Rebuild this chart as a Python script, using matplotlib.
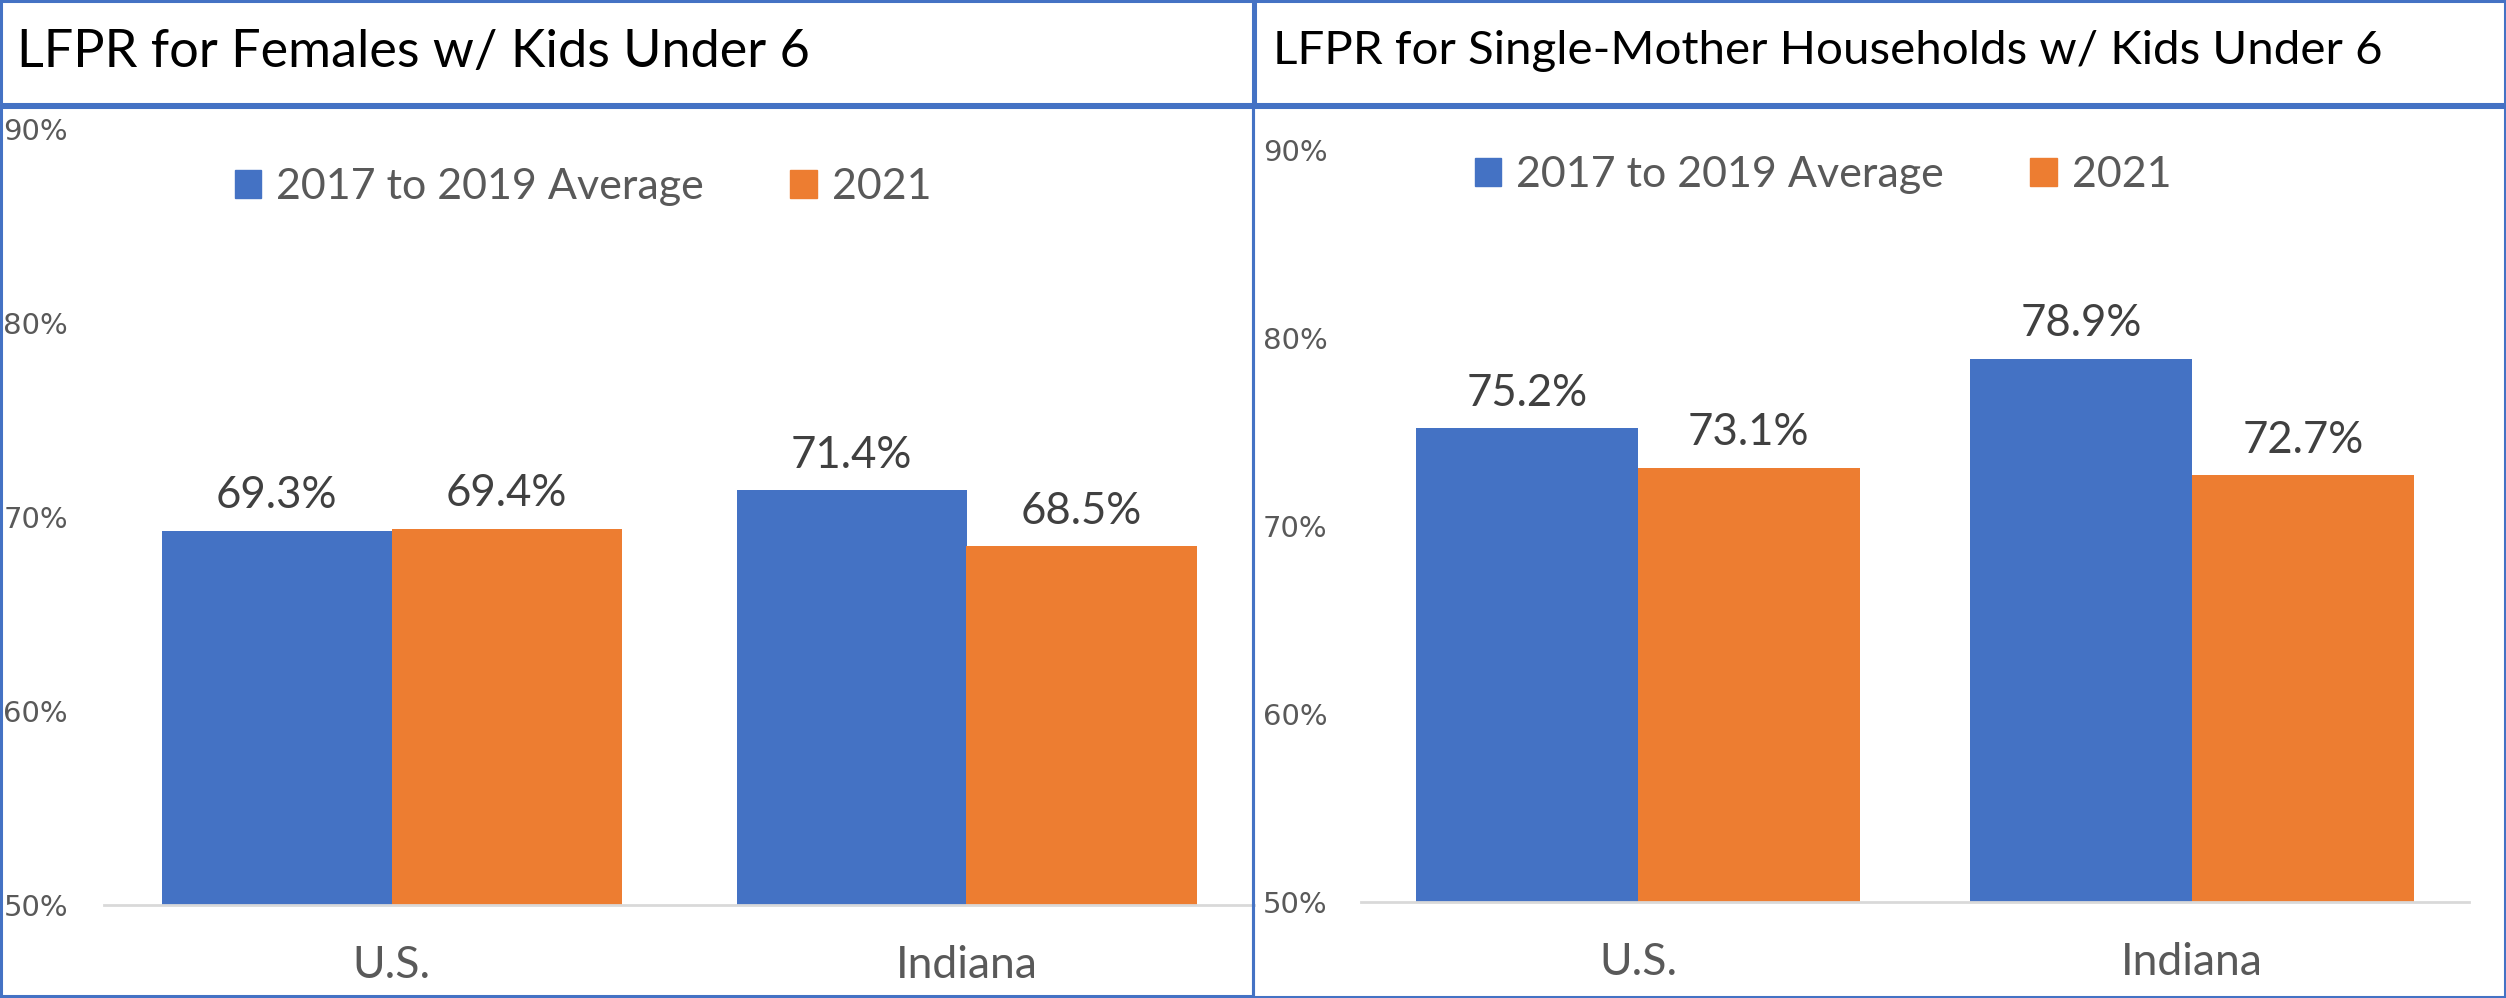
import numpy as np
import matplotlib.pyplot as plt
from matplotlib.patches import Rectangle, Patch
from matplotlib.ticker import PercentFormatter

# data
categories = ['U.S.', 'Indiana']
series_names = ['2017 to 2019 Average', '2021']
females_avg = [69.3, 71.4]
females_2021 = [69.4, 68.5]
single_avg = [75.2, 78.9]
single_2021 = [73.1, 72.7]
y_ticks = [50, 60, 70, 80, 90]

BLUE = '#4472C4'
ORANGE = '#ED7D31'
BORDER = '#4472C4'
GREY = '#595959'
FONT = 'Lato'

W, H = 2506, 998


def px_rect(x0, y0, x1, y1):
    # pixel box (top-left origin) -> figure fraction [left, bottom, width, height]
    return [x0 / W, 1 - y1 / H, (x1 - x0) / W, (y1 - y0) / H]


def draw_box(fig, x0, y0, x1, y1, color=BORDER):
    l, b, w, h = px_rect(x0, y0, x1, y1)
    fig.add_artist(Rectangle((l, b), w, h, transform=fig.transFigure,
                             fill=False, edgecolor=color, linewidth=2.2))


def draw_panel(fig, rect, title, title_pos, title_size, avg, y21, legend_pos, tick_pad):
    ax = fig.add_axes(px_rect(*rect))
    x = np.arange(len(categories))
    w = 0.4
    bars_a = ax.bar(x - w / 2, avg, width=w, color=BLUE, label=series_names[0])
    bars_b = ax.bar(x + w / 2, y21, width=w, color=ORANGE, label=series_names[1])

    for bars in (bars_a, bars_b):
        for b in bars:
            v = b.get_height()
            ax.annotate(f'{v:.1f}%', (b.get_x() + b.get_width() / 2, v),
                        xytext=(0, 16), textcoords='offset points',
                        ha='center', va='baseline', fontsize=31.5,
                        color='#404040', family=FONT)

    ax.set_ylim(50, 90)
    ax.set_xlim(-0.5, len(categories) - 0.5)
    ax.set_yticks(y_ticks)
    ax.yaxis.set_major_formatter(PercentFormatter(decimals=0))
    ax.set_xticks(x)
    ax.set_xticklabels(categories, family=FONT, fontsize=32, color=GREY)
    for lab in ax.get_yticklabels():
        lab.set_family('DejaVu Sans')
        lab.set_fontsize(21)
        lab.set_color(GREY)
    ax.tick_params(axis='y', length=0, pad=tick_pad)
    ax.tick_params(axis='x', length=0, pad=29)
    for s in ['top', 'right', 'left']:
        ax.spines[s].set_visible(False)
    ax.spines['bottom'].set_color('#D9D9D9')
    ax.spines['bottom'].set_linewidth(2)

    fig.text(title_pos[0] / W, 1 - title_pos[1] / H, title, fontsize=title_size,
             family=FONT, color='black', ha='left', va='center')

    handles = [Patch(color=BLUE), Patch(color=ORANGE)]
    fig.legend(handles, series_names, loc='center',
               bbox_to_anchor=(legend_pos[0] / W, 1 - legend_pos[1] / H),
               ncol=2, frameon=False, prop={'family': FONT, 'size': 31},
               labelcolor=GREY, handlelength=0.62, handleheight=0.62,
               handletextpad=0.35, columnspacing=2.0, borderpad=0)
    return ax


fig = plt.figure(figsize=(W / 100, H / 100), dpi=100)

draw_panel(fig, (104, 129, 1254, 905), 'LFPR for Females w/ Kids Under 6',
           (17, 53), 37.6, females_avg, females_2021, (583, 187), 26)
draw_panel(fig, (1361, 150, 2469, 902), 'LFPR for Single-Mother Households w/ Kids Under 6',
           (1273, 51), 34.2, single_avg, single_2021, (1823, 175), 24)

# panel borders
draw_box(fig, 1, 1, 1255, 104)
draw_box(fig, 1, 107, 1253, 996)
draw_box(fig, 1253, 1, 2505, 104)
draw_box(fig, 1253, 107, 2505, 997)

fig.savefig('out.png', dpi=100)
